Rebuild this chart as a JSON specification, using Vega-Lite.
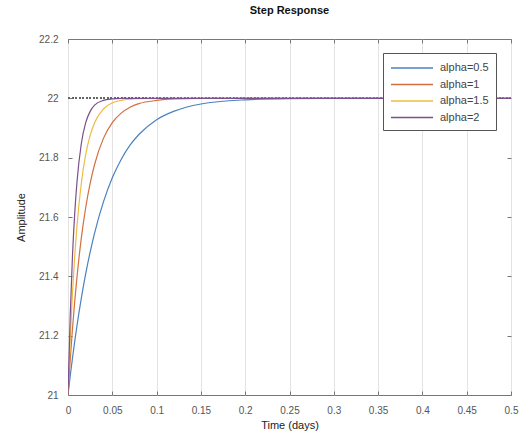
{
  "$schema": "https://vega.github.io/schema/vega-lite/v6.json",
  "autosize": "none",
  "width": 443,
  "height": 356,
  "padding": {"left": 68, "top": 39, "right": 9, "bottom": 43},
  "background": "white",
  "config": {
    "font": "Liberation Sans",
    "view": {"stroke": "#777", "strokeWidth": 1},
    "axis": {"labelFont": "Liberation Sans", "labelFontSize": 10, "labelColor": "#555", "titleFont": "Liberation Sans", "titleFontSize": 11, "titleFontWeight": "normal", "titleColor": "#222", "gridColor": "#e3e3e3", "gridWidth": 1, "domain": false, "tickColor": "#777", "tickSize": -4}
  },
  "title": {"text": "Step Response", "fontSize": 11, "fontWeight": "bold", "color": "#111", "anchor": "middle", "offset": 18, "font": "Liberation Sans"},
  "datasets": {
    "step": [
      {"t": 0, "v": 21, "s": "alpha=0.5"},
      {"t": 0.0025, "v": 21.064, "s": "alpha=0.5"},
      {"t": 0.005, "v": 21.123, "s": "alpha=0.5"},
      {"t": 0.0075, "v": 21.179, "s": "alpha=0.5"},
      {"t": 0.01, "v": 21.231, "s": "alpha=0.5"},
      {"t": 0.015, "v": 21.326, "s": "alpha=0.5"},
      {"t": 0.02, "v": 21.409, "s": "alpha=0.5"},
      {"t": 0.025, "v": 21.482, "s": "alpha=0.5"},
      {"t": 0.03, "v": 21.546, "s": "alpha=0.5"},
      {"t": 0.04, "v": 21.651, "s": "alpha=0.5"},
      {"t": 0.05, "v": 21.732, "s": "alpha=0.5"},
      {"t": 0.06, "v": 21.794, "s": "alpha=0.5"},
      {"t": 0.07, "v": 21.842, "s": "alpha=0.5"},
      {"t": 0.08, "v": 21.878, "s": "alpha=0.5"},
      {"t": 0.1, "v": 21.928, "s": "alpha=0.5"},
      {"t": 0.12, "v": 21.957, "s": "alpha=0.5"},
      {"t": 0.15, "v": 21.981, "s": "alpha=0.5"},
      {"t": 0.2, "v": 21.995, "s": "alpha=0.5"},
      {"t": 0.25, "v": 21.999, "s": "alpha=0.5"},
      {"t": 0.3, "v": 22, "s": "alpha=0.5"},
      {"t": 0.5, "v": 22, "s": "alpha=0.5"},
      {"t": 0, "v": 21, "s": "alpha=1"},
      {"t": 0.0025, "v": 21.118, "s": "alpha=1"},
      {"t": 0.005, "v": 21.221, "s": "alpha=1"},
      {"t": 0.0075, "v": 21.313, "s": "alpha=1"},
      {"t": 0.01, "v": 21.393, "s": "alpha=1"},
      {"t": 0.015, "v": 21.528, "s": "alpha=1"},
      {"t": 0.02, "v": 21.632, "s": "alpha=1"},
      {"t": 0.025, "v": 21.713, "s": "alpha=1"},
      {"t": 0.03, "v": 21.777, "s": "alpha=1"},
      {"t": 0.04, "v": 21.865, "s": "alpha=1"},
      {"t": 0.05, "v": 21.918, "s": "alpha=1"},
      {"t": 0.06, "v": 21.95, "s": "alpha=1"},
      {"t": 0.07, "v": 21.97, "s": "alpha=1"},
      {"t": 0.08, "v": 21.982, "s": "alpha=1"},
      {"t": 0.1, "v": 21.993, "s": "alpha=1"},
      {"t": 0.12, "v": 21.998, "s": "alpha=1"},
      {"t": 0.15, "v": 22, "s": "alpha=1"},
      {"t": 0.5, "v": 22, "s": "alpha=1"},
      {"t": 0, "v": 21, "s": "alpha=1.5"},
      {"t": 0.0025, "v": 21.188, "s": "alpha=1.5"},
      {"t": 0.005, "v": 21.341, "s": "alpha=1.5"},
      {"t": 0.0075, "v": 21.465, "s": "alpha=1.5"},
      {"t": 0.01, "v": 21.565, "s": "alpha=1.5"},
      {"t": 0.015, "v": 21.713, "s": "alpha=1.5"},
      {"t": 0.02, "v": 21.811, "s": "alpha=1.5"},
      {"t": 0.025, "v": 21.875, "s": "alpha=1.5"},
      {"t": 0.03, "v": 21.918, "s": "alpha=1.5"},
      {"t": 0.04, "v": 21.964, "s": "alpha=1.5"},
      {"t": 0.05, "v": 21.985, "s": "alpha=1.5"},
      {"t": 0.06, "v": 21.993, "s": "alpha=1.5"},
      {"t": 0.07, "v": 21.997, "s": "alpha=1.5"},
      {"t": 0.08, "v": 21.999, "s": "alpha=1.5"},
      {"t": 0.1, "v": 22, "s": "alpha=1.5"},
      {"t": 0.5, "v": 22, "s": "alpha=1.5"},
      {"t": 0, "v": 21, "s": "alpha=2"},
      {"t": 0.0025, "v": 21.268, "s": "alpha=2"},
      {"t": 0.005, "v": 21.465, "s": "alpha=2"},
      {"t": 0.0075, "v": 21.608, "s": "alpha=2"},
      {"t": 0.01, "v": 21.713, "s": "alpha=2"},
      {"t": 0.015, "v": 21.847, "s": "alpha=2"},
      {"t": 0.02, "v": 21.918, "s": "alpha=2"},
      {"t": 0.025, "v": 21.956, "s": "alpha=2"},
      {"t": 0.03, "v": 21.977, "s": "alpha=2"},
      {"t": 0.04, "v": 21.993, "s": "alpha=2"},
      {"t": 0.05, "v": 21.998, "s": "alpha=2"},
      {"t": 0.06, "v": 22, "s": "alpha=2"},
      {"t": 0.5, "v": 22, "s": "alpha=2"}
    ]
  },
  "data": {"name": "step"},
  "layer": [
    {
      "mark": {"type": "rule", "color": "#666", "strokeDash": [1.5, 2], "strokeWidth": 1},
      "encoding": {"y": {"datum": 22, "type": "quantitative", "scale": {"domain": [21, 22.2], "nice": false, "zero": false}, "axis": null}}
    },
    {
      "mark": {"type": "line", "strokeWidth": 1.2, "interpolate": "monotone", "clip": true},
      "encoding": {
        "x": {"field": "t", "type": "quantitative", "title": "Time (days)", "scale": {"domain": [0, 0.5], "nice": false, "zero": false}, "axis": {"orient": "bottom", "values": [0, 0.05, 0.1, 0.15, 0.2, 0.25, 0.3, 0.35, 0.4, 0.45, 0.5], "format": "~g", "titlePadding": 4, "labelFlush": false, "labelPadding": 14}},
        "y": {"field": "v", "type": "quantitative", "title": "Amplitude", "scale": {"domain": [21, 22.2], "nice": false, "zero": false}, "axis": {"orient": "left", "values": [21, 21.2, 21.4, 21.6, 21.8, 22, 22.2], "format": "~g", "titlePadding": 12, "labelFlush": false, "labelPadding": 14}},
        "color": {
          "field": "s", "type": "nominal",
          "scale": {"domain": ["alpha=0.5", "alpha=1", "alpha=1.5", "alpha=2"], "range": ["#4a82bf", "#d2703f", "#eebb45", "#7a4f8c"]},
          "legend": {"title": null, "orient": "none", "legendX": 315, "legendY": 14, "symbolType": "M-1,0H5", "symbolSize": 196, "symbolStrokeWidth": 1.3, "labelFontSize": 11, "labelColor": "#444", "labelFont": "Liberation Sans", "rowPadding": 3.5, "padding": 7, "strokeColor": "#555", "fillColor": "white", "labelOffset": 34}
        }
      }
    },
    {
      "mark": {"type": "point", "opacity": 0},
      "encoding": {
        "x": {"field": "t", "type": "quantitative", "scale": {"domain": [0, 0.5], "nice": false, "zero": false}, "axis": {"orient": "top", "values": [0, 0.05, 0.1, 0.15, 0.2, 0.25, 0.3, 0.35, 0.4, 0.45, 0.5], "labels": false, "grid": false, "title": null}},
        "y": {"field": "v", "type": "quantitative", "scale": {"domain": [21, 22.2], "nice": false, "zero": false}, "axis": {"orient": "right", "values": [21, 21.2, 21.4, 21.6, 21.8, 22, 22.2], "labels": false, "grid": false, "title": null}}
      }
    }
  ],
  "resolve": {"axis": {"x": "independent", "y": "independent"}}
}
